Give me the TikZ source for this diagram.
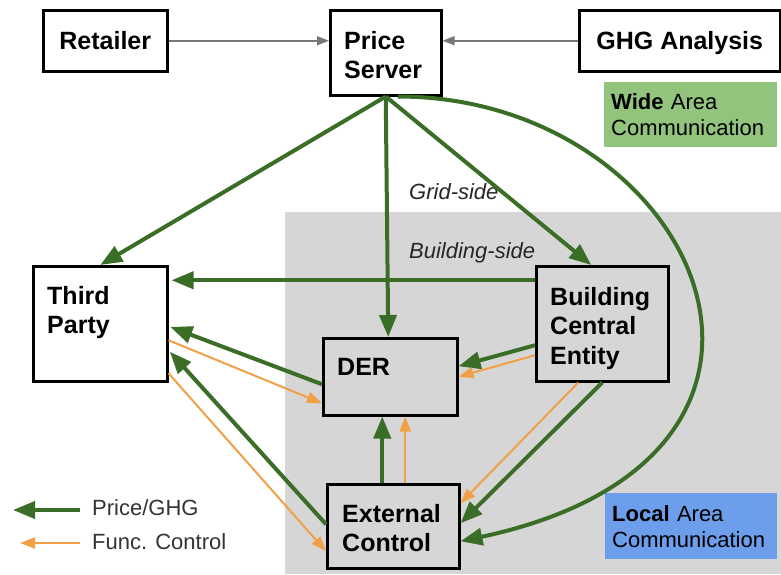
\documentclass[tikz,border=0pt]{standalone}
\usepackage{fontspec}
\setmainfont{Liberation Sans}
\usetikzlibrary{arrows.meta}
\newcommand{\dgbold}{\fontsize{25}{29.5}\selectfont\bfseries}
\newcommand{\dgtext}{\fontsize{22}{26}\selectfont}
\definecolor{dgprice}{HTML}{3A6E27}
\definecolor{dgcontrol}{HTML}{F2A046}
\definecolor{dgfeed}{HTML}{777777}
\definecolor{dgbuilding}{HTML}{D6D6D6}
\definecolor{dgwide}{HTML}{93C47D}
\definecolor{dglocal}{HTML}{6D9EEB}
\tikzset{
  entity/.style={draw=black,line width=2.5pt,rectangle,anchor=north west,inner sep=0pt,font=\dgbold},
  entitytext/.style={anchor=north west,inner sep=0pt,align=left,font=\dgbold},
  areakey/.style={anchor=north west,inner xsep=7pt,inner ysep=0pt,align=left,font=\dgtext},
  sidelabel/.style={anchor=base west,inner sep=0pt,font=\dgtext\itshape,text=black!85},
  keylabel/.style={anchor=base west,inner sep=0pt,font=\dgtext,text=black!80},
  feedarrow/.style={draw=dgfeed,line width=1.5pt,-{Triangle[length=12pt,width=9pt]}},
  pricearrow/.style={draw=dgprice,line width=4pt,-{Triangle[length=22pt,width=17pt]}},
  ctrlarrow/.style={draw=dgcontrol,line width=2pt,-{Triangle[length=15pt,width=11pt]}},
}
\begin{document}
\begin{tikzpicture}[x=1pt,y=-1pt]
  \useasboundingbox (0,0) rectangle (781,574);
  \fill[dgbuilding] (285,212) rectangle (781,574);

  \node[entity,minimum width=124,minimum height=61] (ret) at (42,9) {Retailer};
  \node[entity,minimum width=111,minimum height=85] (srv) at (329,9) {};
  \node[entity,minimum width=201,minimum height=61,text depth=0pt] (ghg) at (578,9) {GHG Analysis};
  \node[entity,minimum width=134,minimum height=115] (tp) at (32,265) {};
  \node[entity,minimum width=134,minimum height=77] (der) at (322,337) {};
  \node[entity,minimum width=132,minimum height=115] (bce) at (535,265) {};
  \node[entity,minimum width=132,minimum height=84] (ext) at (326,483) {};

  \node[entitytext] (srv-name) at ([xshift=15pt,yshift=-22pt]srv.north west) {Price\\Server};
  \node[entitytext] (tp-name) at ([xshift=15pt,yshift=-21pt]tp.north west) {Third\\Party};
  \node[entitytext] (der-name) at ([xshift=15pt,yshift=-21pt]der.north west) {DER};
  \node[entitytext] (bce-name) at ([xshift=15pt,yshift=-22pt]bce.north west) {Building\\Central\\Entity};
  \node[entitytext] (ext-name) at ([xshift=16pt,yshift=-21pt]ext.north west) {External\\Control};

  \node[areakey,fill=dgwide,minimum width=173,minimum height=65,text width=159pt] (wide) at (604,82)
    {\textbf{Wide} Area\\Communication};
  \node[areakey,fill=dglocal,minimum width=172,minimum height=66,text width=158pt] (local) at (605,493)
    {\textbf{Local} Area\\Communication};

  \node[sidelabel] (grid) at (409,199) {Grid-side};
  \node[sidelabel] (bside) at (409,258) {Building-side};

  \draw[feedarrow] (ret.east) -- (ret.east -| srv.west);
  \draw[feedarrow] (ghg.west) -- (ghg.west -| srv.east);

  \draw[pricearrow] (srv.south) -- (tp.north);
  \draw[pricearrow] (srv.south) -- ([xshift=-2pt]der.north);
  \draw[pricearrow] (srv.south) -- ([xshift=-11pt]bce.north);
  \draw[pricearrow] ([xshift=12pt]srv.south) .. controls +(300,0) and +(400,-85) .. ([yshift=-15pt]ext.east);

  \draw[pricearrow,shorten >=3pt] ([yshift=43.5pt]bce.west) -- ([yshift=43.5pt]tp.east);
  \draw[pricearrow,shorten >=2pt] ([yshift=-7.5pt]der.west) -- ([yshift=-2.5pt]tp.east);
  \draw[ctrlarrow] ([yshift=-16.5pt]tp.east) -- ([yshift=-26.5pt]der.west);
  \draw[pricearrow,shorten >=2pt] ([yshift=2pt]ext.west) -- ([yshift=-26.5pt]tp.east);
  \draw[ctrlarrow] ([yshift=-49.5pt]tp.east) -- ([yshift=-25pt]ext.west);

  \draw[pricearrow] ([xshift=-11pt]ext.north) -- ([xshift=-11pt]ext.north |- der.south);
  \draw[ctrlarrow] ([xshift=12pt]ext.north) -- ([xshift=12pt]ext.north |- der.south);

  \draw[pricearrow] ([yshift=-21.5pt]bce.west) -- ([yshift=10.5pt]der.east);
  \draw[ctrlarrow] ([yshift=-31.5pt]bce.west) -- (der.east);
  \draw[ctrlarrow] ([xshift=-24pt]bce.south) -- ([yshift=23pt]ext.east);
  \draw[pricearrow] (bce.south) -- ([yshift=3pt]ext.east);

  \coordinate (key-price) at (80,510);
  \coordinate (key-price-tip) at (13,510);
  \coordinate (key-ctrl) at (80,543);
  \coordinate (key-ctrl-tip) at (20,543);
  \draw[pricearrow] (key-price) -- (key-price-tip);
  \draw[ctrlarrow] (key-ctrl) -- (key-ctrl-tip);
  \node[keylabel] (key-price-text) at (92,515) {Price/GHG};
  \node[keylabel] (key-ctrl-text) at (92,549) {Func. Control};
\end{tikzpicture}
\end{document}
